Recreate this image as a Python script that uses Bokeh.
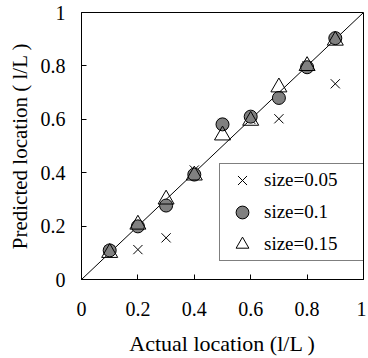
from bokeh.plotting import figure
from bokeh.models import Legend, LegendItem, FixedTicker, CustomJSTickFormatter
from bokeh.embed import file_html
from bokeh.resources import INLINE

actual = [0.1, 0.2, 0.3, 0.4, 0.5, 0.6, 0.7, 0.8, 0.9]
pred_005 = [0.11, 0.112, 0.156, 0.41, 0.583, 0.60, 0.602, 0.80, 0.733]
pred_010 = [0.109, 0.199, 0.277, 0.393, 0.581, 0.61, 0.68, 0.795, 0.904]
pred_015 = [0.10, 0.206, 0.30, 0.39, 0.54, 0.595, 0.72, 0.80, 0.895]
ticks = [0, 0.2, 0.4, 0.6, 0.8, 1]
diag = [0, 1]

FONT = "Liberation Serif"

p = figure(width=366, height=358, x_range=(0, 1), y_range=(0, 1),
           output_backend="svg", toolbar_location=None,
           min_border_left=81, min_border_right=3, min_border_top=12, min_border_bottom=79)
p.grid.visible = False
p.outline_line_color = "black"
p.outline_line_width = 1
p.background_fill_color = "white"

fmt = CustomJSTickFormatter(code="var s = tick.toFixed(1); if (s.endsWith('.0')) { s = s.slice(0, -2); } return s;")
for ax in (p.xaxis, p.yaxis):
    ax.ticker = FixedTicker(ticks=ticks)
    ax.formatter = fmt
    ax.major_tick_in = 5
    ax.major_tick_out = 0
    ax.minor_tick_line_color = None
    ax.axis_line_color = "black"
    ax.major_tick_line_color = "black"
    ax.major_label_text_font = FONT
    ax.major_label_text_font_size = "20px"
    ax.major_label_text_color = "black"
    ax.axis_label_text_font = FONT
    ax.axis_label_text_font_style = "normal"
    ax.axis_label_text_color = "black"

p.xaxis.axis_label_text_font_size = "22px"
p.yaxis.axis_label_text_font_size = "21px"
p.xaxis.major_label_standoff = 22
p.yaxis.major_label_standoff = 16
p.xaxis.axis_label = "Actual location (l/L )"
p.yaxis.axis_label = "Predicted location ( l/L )"
p.xaxis.axis_label_standoff = 12
p.yaxis.axis_label_standoff = 6

p.line(diag, diag, line_color="black", line_width=1)

r1 = p.scatter(actual, pred_005, marker="x", size=13, line_color="black", line_width=1)
r2 = p.scatter(actual, pred_010, marker="circle", size=13, fill_color="#808080",
               line_color="black", line_width=1)
r3 = p.scatter(actual, pred_015, marker="triangle", size=16, fill_color="white",
               fill_alpha=0.0, line_color="black", line_width=1)

legend = Legend(items=[LegendItem(label="size=0.05", renderers=[r1]),
                       LegendItem(label="size=0.1", renderers=[r2]),
                       LegendItem(label="size=0.15", renderers=[r3])],
                location=(138, 18))
legend.border_line_color = "black"
legend.border_line_width = 1
legend.label_text_font = FONT
legend.label_text_font_size = "19px"
legend.label_text_color = "black"
legend.glyph_width = 44
legend.glyph_height = 32
legend.label_height = 32
legend.label_width = 99
legend.label_standoff = 0
legend.spacing = -7
legend.padding = 0
legend.margin = 0
legend.background_fill_alpha = 1.0
p.add_layout(legend, "center")

open("out.html", "w").write(file_html(p, INLINE))
